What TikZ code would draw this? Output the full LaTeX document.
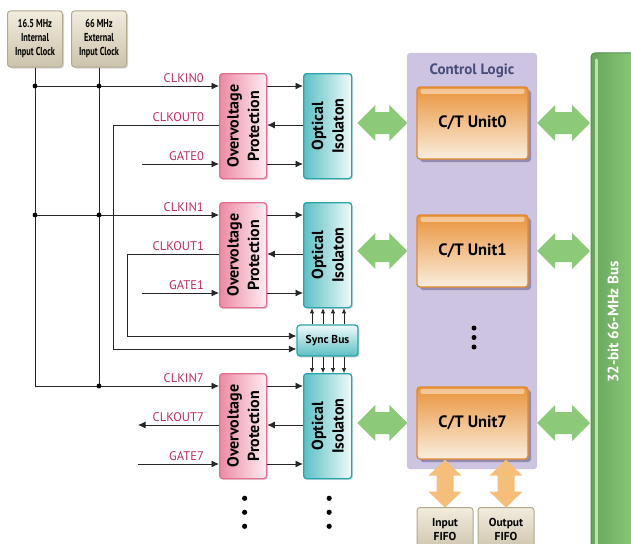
\documentclass[tikz,border=0pt]{standalone}
\usepackage{fontspec}
\setmainfont{PT Sans}
\newfontfamily\condfont[FakeStretch=0.72]{PT Sans}
\usetikzlibrary{arrows.meta,calc,shadows}
\definecolor{lblred}{RGB}{192,44,92}
\definecolor{opdraw}{RGB}{226,112,142}
\definecolor{opdark}{RGB}{236,138,164}
\definecolor{oplight}{RGB}{253,238,242}
\definecolor{oidraw}{RGB}{40,164,172}
\definecolor{oidark}{RGB}{92,192,196}
\definecolor{oilight}{RGB}{240,250,250}
\definecolor{clfill}{RGB}{204,196,224}
\definecolor{cltext}{RGB}{72,76,122}
\definecolor{ctdraw}{RGB}{228,136,46}
\definecolor{cttop}{RGB}{234,148,60}
\definecolor{ctbot}{RGB}{249,238,222}
\definecolor{ctshadow}{RGB}{140,132,170}
\definecolor{grarrow}{RGB}{140,202,122}
\definecolor{orarrow}{RGB}{245,190,122}
\definecolor{busdark}{RGB}{104,164,92}
\definecolor{buslight}{RGB}{142,206,124}
\definecolor{busedge}{RGB}{88,140,78}
\definecolor{busstripe}{RGB}{186,230,160}
\definecolor{clktop}{RGB}{242,236,222}
\definecolor{clkbot}{RGB}{204,195,172}
\definecolor{clkdraw}{RGB}{178,168,144}
\newcommand{\fsz}[2]{\fontsize{#1}{#2}\selectfont}
\newcommand{\hdarr}[2]{%
  \fill[grarrow] #1 -- ++(18,-18) -- ++(0,7) -- ++({#2-36},0) -- ++(0,-7) -- ++(18,18)
   -- ++(-18,18) -- ++(0,-7) -- ++({-(#2-36)},0) -- ++(0,7) -- cycle;}
\newcommand{\vdarr}[2]{%
  \fill[orarrow] #1 -- ++(16.5,16) -- ++(-8,0) -- ++(0,{#2-32}) -- ++(8,0) -- ++(-16.5,16)
   -- ++(-16.5,-16) -- ++(8,0) -- ++(0,{-(#2-32)}) -- ++(-8,0) -- cycle;}
\tikzset{
  wire/.style={draw=black!85, line width=0.85pt},
  arr/.style={wire, -{Latex[length=7.5pt,width=7pt]}},
  sarr/.style={draw=black!85, line width=0.7pt, -{Latex[length=5pt,width=4.5pt]}},
  lbl/.style={text=lblred, font=\fsz{12.5}{14}, anchor=base east, inner sep=0pt},
  dot/.style={fill=black},
  clkbox/.style={rounded corners=3pt, draw=clkdraw, line width=1pt, top color=clktop, bottom color=clkbot,
     minimum width=55pt, minimum height=56pt, inner sep=0pt, align=center,
     font=\condfont\bfseries\fsz{11.5}{14},
     drop shadow={shadow xshift=1.5pt, shadow yshift=-1.5pt, opacity=0.3}},
  opbox/.style={rounded corners=3pt, draw=opdraw, line width=1.3pt, left color=opdark, right color=oplight,
     minimum width=47pt, minimum height=105pt, inner sep=0pt, anchor=north west,
     drop shadow={shadow xshift=1.5pt, shadow yshift=-1.5pt, opacity=0.25}},
  oibox/.style={rounded corners=3pt, draw=oidraw, line width=1.3pt, left color=oidark, right color=oilight,
     minimum width=48pt, minimum height=105pt, inner sep=0pt, anchor=north west,
     drop shadow={shadow xshift=1.5pt, shadow yshift=-1.5pt, opacity=0.25}},
  vtext/.style={rotate=90, align=center, font=\bfseries\fsz{16}{20.5}, inner sep=0pt},
  syncbox/.style={rounded corners=3pt, draw=oidraw, line width=1.3pt, top color=oilight, bottom color=oidark,
     minimum width=61pt, minimum height=31pt, inner sep=0pt, font=\bfseries\fsz{11.5}{13},
     drop shadow={shadow xshift=1.5pt, shadow yshift=-1.5pt, opacity=0.25}},
  ctbox/.style={rounded corners=3pt, draw=ctdraw, line width=1.3pt, top color=cttop, bottom color=ctbot,
     minimum width=111pt, minimum height=72pt, inner sep=0pt, font=\bfseries\fsz{16.5}{18},
     drop shadow={shadow xshift=3pt, shadow yshift=-3pt, fill=ctshadow, opacity=0.9}},
  fifobox/.style={rounded corners=3pt, draw=clkdraw, line width=1pt, top color=clktop, bottom color=clkbot,
     minimum width=56pt, minimum height=44pt, inner sep=0pt, align=center, anchor=north,
     font=\bfseries\fsz{11.5}{14}},
}
\begin{document}
\begin{tikzpicture}[x=1pt,y=-1pt]
\useasboundingbox (0,0) rectangle (631,543);
\fill[white] (0,0) rectangle (631,543);

% control logic panel and bus
\fill[clfill, rounded corners=3pt] (407,53) rectangle (537,469);
\node[inner sep=0pt] (cl) at (472,71) {\textcolor{cltext}{\bfseries\fsz{15}{16}Control Logic}};
\coordinate (clE) at (537,0);
\draw[rounded corners=4pt, draw=busedge, line width=1pt, left color=busdark, right color=buslight]
  (591,560) -- (591,53) -- (640,53) -- (640,560);
\draw[busstripe, line width=3pt, line cap=round] (596,60) -- (596,560);
\node[rotate=90, text=white, font=\bfseries\fsz{15}{17}, inner sep=0pt] (bus) at (613,322) {32-bit 66-MHz Bus};

% clock sources
\node[clkbox] (clk1) at (35,39) {16.5 MHz\\Internal\\Input Clock};
\node[clkbox] (clk2) at (99,39) {66 MHz\\External\\Input Clock};

% overvoltage / optical boxes
\node[opbox] (op0) at (219,73) {};
\node[opbox] (op1) at (219,202) {};
\node[opbox] (op7) at (219,373) {};
\node[oibox] (oi0) at (303,73) {};
\node[oibox] (oi1) at (303,202) {};
\node[oibox] (oi7) at (303,373) {};
\foreach \b in {op0,op1,op7} \node[vtext] at (\b) {Overvoltage\\Protection};
\foreach \b in {oi0,oi1,oi7} \node[vtext] at (\b) {Optical\\Isolaton};
\node[syncbox] (sync) at (327.5,340.5) {Sync Bus};

% row coordinates
\coordinate (a0) at (35,86);  \coordinate (k0) at (113,125); \coordinate (g0) at (142,164);
\coordinate (a1) at (35,215); \coordinate (k1) at (127,254); \coordinate (g1) at (142,293);
\coordinate (a7) at (35,386); \coordinate (k7) at (138,425); \coordinate (g7) at (138,464);
\coordinate (s0) at (113,349); \coordinate (s1) at (127,336);

% clock distribution
\draw[arr] (clk1.south) |- (op7.west |- a7);
\draw[wire] (clk2.south) -- (clk2.south |- a7);
\draw[arr] (a0) -- (op0.west |- a0);
\draw[arr] (a1) -- (op1.west |- a1);
\foreach \p in {a0,a1} {
  \fill[dot] (\p) circle (2.4pt);
  \fill[dot] (clk2.south |- \p) circle (2.4pt);
}
\fill[dot] (clk2.south |- a7) circle (2.4pt);

% gates and clkout
\draw[arr] (g0) -- (op0.west |- g0);
\draw[arr] (g1) -- (op1.west |- g1);
\draw[arr] (g7) -- (op7.west |- g7);
\draw[arr] (op0.west |- k0) -| (s0) -- (sync.west |- s0);
\draw[arr] (op1.west |- k1) -| (s1) -- (sync.west |- s1);
\draw[arr] (op7.west |- k7) -- (k7);

% OP <-> OI
\foreach \o/\i/\r in {op0/oi0/0, op1/oi1/1, op7/oi7/7} {
  \draw[arr] (\o.east |- a\r) -- (\i.west |- a\r);
  \draw[arr] (\i.west |- k\r) -- (\o.east |- k\r);
  \draw[arr] (\o.east |- g\r) -- (\i.west |- g\r);
}

% sync bus arrows
\foreach \x in {312,323,333,344} {
  \draw[sarr] (sync.north -| \x,0) -- (oi1.south -| \x,0);
  \draw[sarr] (sync.south -| \x,0) -- (oi7.north -| \x,0);
}

% labels
\node[lbl] at ($(op0.west |- a0)+(-15,-4)$) {CLKIN0};
\node[lbl] at ($(op0.west |- k0)+(-15,-4)$) {CLKOUT0};
\node[lbl] at ($(op0.west |- g0)+(-15,-4)$) {GATE0};
\node[lbl] at ($(op1.west |- a1)+(-15,-4)$) {CLKIN1};
\node[lbl] at ($(op1.west |- k1)+(-15,-4)$) {CLKOUT1};
\node[lbl] at ($(op1.west |- g1)+(-15,-4)$) {GATE1};
\node[lbl] at ($(op7.west |- a7)+(-15,-4)$) {CLKIN7};
\node[lbl] at ($(op7.west |- k7)+(-15,-4)$) {CLKOUT7};
\node[lbl] at ($(op7.west |- g7)+(-15,-4)$) {GATE7};

% continuation dots
\foreach \d in {19,33,47} {
  \fill[dot] ($(op7.south)+(1.5,\d)$) circle (2.6pt);
  \fill[dot] ($(oi7.south)+(1.5,\d)$) circle (2.6pt);
}
\foreach \y in {328,337.5,347} \fill[dot] (474,\y) circle (2.5pt);

% counter/timer units
\node[ctbox] (u0) at (472.5,123) {C/T Unit0};
\node[ctbox] (u1) at (472.5,251) {C/T Unit1};
\node[ctbox] (u7) at (472.5,423) {C/T Unit7};
\foreach \u in {u0,u1,u7}
  \fill[white, opacity=0.45, rounded corners=2pt] ($(\u.north west)+(4,2.5)$) rectangle ($(\u.north east)+(-4,7.5)$);

% green double arrows
\foreach \u/\o in {u0/oi0, u1/oi1, u7/oi7} {
  \hdarr{($(\o.east |- \u)+(5,0)$)}{50}
  \hdarr{(clE |- \u)}{53}
}

% FIFOs
\node[fifobox] (fin) at (445,507) {Input\\FIFO};
\node[fifobox] (fout) at (506,507) {Output\\FIFO};
\vdarr{(fin.north |- u7.south)}{48}
\vdarr{(fout.north |- u7.south)}{48}
\end{tikzpicture}
\end{document}
